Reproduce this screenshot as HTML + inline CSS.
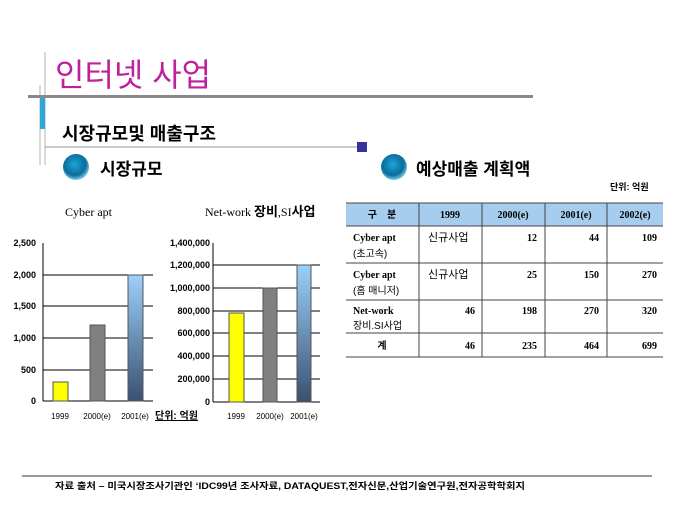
<!DOCTYPE html>
<html><head><meta charset="utf-8"><style>
body{margin:0;background:#fff;width:680px;height:510px;overflow:hidden}
svg text{font-family:"Liberation Sans","Noto Sans CJK KR",sans-serif}
.s{font-family:"Liberation Serif","Noto Sans CJK KR",serif!important}
</style></head><body>
<svg width="680" height="510" viewBox="0 0 680 510" xmlns="http://www.w3.org/2000/svg">
<defs>
<radialGradient id="ball" cx="45%" cy="40%" r="60%"><stop offset="0" stop-color="#1aa6d8"/><stop offset="0.7" stop-color="#0a6c9a"/><stop offset="1" stop-color="#7ccde8"/></radialGradient>
<linearGradient id="bl" x1="0" y1="0" x2="0" y2="1"><stop offset="0" stop-color="#9cd0fa"/><stop offset="1" stop-color="#3a5070"/></linearGradient>
</defs>
<!-- header decoration -->
<line x1="45" y1="52" x2="45" y2="165" stroke="#ccc" stroke-width="1.5"/>
<line x1="40" y1="85" x2="40" y2="165" stroke="#ccc" stroke-width="1.5"/>
<rect x="40" y="97" width="5" height="32" fill="#2aa8d8"/>
<text x="55" y="86" font-size="32" fill="#c0209c">인터넷 사업</text>
<rect x="28" y="95" width="505" height="3" fill="#888"/>
<text x="62" y="140" font-size="18" font-weight="bold" fill="#000">시장규모및 매출구조</text>
<line x1="45" y1="147" x2="360" y2="147" stroke="#999"/>
<rect x="357" y="142" width="10" height="10" fill="#333399"/>
<circle cx="76" cy="167" r="13" fill="url(#ball)"/>
<text x="100" y="175" font-size="17" font-weight="bold">시장규모</text>
<circle cx="394" cy="167" r="13" fill="url(#ball)"/>
<text x="416" y="175" font-size="17" font-weight="bold">예상매출 계획액</text>
<text x="610" y="190" font-size="9" font-weight="bold">단위: 억원</text>
<!-- chart titles -->
<text class="s" x="65" y="216" font-size="12">Cyber apt</text>
<text class="s" x="205" y="216" font-size="12">Net-work <tspan font-weight="bold" font-size="13">장비</tspan>,SI<tspan font-weight="bold" font-size="13">사업</tspan></text>
<!-- left chart -->
<g stroke="#000" stroke-width="1">
<line x1="43" y1="275" x2="153" y2="275"/><line x1="43" y1="306" x2="153" y2="306"/>
<line x1="43" y1="338" x2="153" y2="338"/><line x1="43" y1="370" x2="153" y2="370"/>
<line x1="43" y1="243" x2="43" y2="401"/><line x1="43" y1="401" x2="153" y2="401"/>
</g>
<rect x="53" y="382" width="15" height="19" fill="#ffff00" stroke="#555"/>
<rect x="90" y="325" width="15" height="76" fill="#808080" stroke="#555"/>
<rect x="128" y="275" width="15" height="126" fill="url(#bl)" stroke="#555"/>
<g font-size="9" font-weight="bold" text-anchor="end">
<text x="36" y="246">2,500</text><text x="36" y="278">2,000</text><text x="36" y="309">1,500</text>
<text x="36" y="341">1,000</text><text x="36" y="373">500</text><text x="36" y="404">0</text>
</g>
<g font-size="8" text-anchor="middle">
<text x="60" y="419">1999</text><text x="97" y="419">2000(e)</text><text x="135" y="419">2001(e)</text>
</g>
<text x="155" y="419" font-size="10" font-weight="bold" text-decoration="underline">단위: 억원</text>
<!-- right chart -->
<g stroke="#000" stroke-width="1">
<line x1="213" y1="265" x2="320" y2="265"/><line x1="213" y1="288" x2="320" y2="288"/>
<line x1="213" y1="311" x2="320" y2="311"/><line x1="213" y1="333" x2="320" y2="333"/>
<line x1="213" y1="356" x2="320" y2="356"/><line x1="213" y1="379" x2="320" y2="379"/>
<line x1="213" y1="243" x2="213" y2="402"/><line x1="213" y1="402" x2="320" y2="402"/>
</g>
<rect x="229" y="313" width="15" height="89" fill="#ffff00" stroke="#555"/>
<rect x="263" y="288" width="14" height="114" fill="#808080" stroke="#555"/>
<rect x="297" y="265" width="14" height="137" fill="url(#bl)" stroke="#555"/>
<g font-size="9" font-weight="bold" text-anchor="end">
<text x="210" y="246">1,400,000</text><text x="210" y="268">1,200,000</text><text x="210" y="291">1,000,000</text>
<text x="210" y="314">800,000</text><text x="210" y="336">600,000</text><text x="210" y="359">400,000</text>
<text x="210" y="382">200,000</text><text x="210" y="405">0</text>
</g>
<g font-size="8" text-anchor="middle">
<text x="236" y="419">1999</text><text x="270" y="419">2000(e)</text><text x="304" y="419">2001(e)</text>
</g>
<!-- table -->
<rect x="346" y="203" width="317" height="23" fill="#a6cdee"/>
<g stroke="#444" stroke-width="1">
<line x1="346" y1="203" x2="663" y2="203"/><line x1="346" y1="226" x2="663" y2="226"/>
<line x1="346" y1="263" x2="663" y2="263"/><line x1="346" y1="300" x2="663" y2="300"/>
<line x1="346" y1="333" x2="663" y2="333"/><line x1="346" y1="357" x2="663" y2="357"/>
<line x1="419" y1="203" x2="419" y2="357"/><line x1="482" y1="203" x2="482" y2="357"/>
<line x1="545" y1="203" x2="545" y2="357"/><line x1="607" y1="203" x2="607" y2="357"/>
</g>
<g class="s" font-size="10" font-weight="bold" text-anchor="middle">
<text class="s" x="382" y="218">구　분</text><text class="s" x="450" y="218">1999</text>
<text class="s" x="513" y="218">2000(e)</text><text class="s" x="576" y="218">2001(e)</text><text class="s" x="635" y="218">2002(e)</text>
</g>
<g font-size="10" font-weight="bold">
<text class="s" x="353" y="241">Cyber apt</text><text x="353" y="257" font-weight="normal">(초고속)</text>
<text class="s" x="353" y="278">Cyber apt</text><text x="353" y="294" font-weight="normal">(홈 매니저)</text>
<text class="s" x="353" y="314">Net-work</text><text x="353" y="329" font-weight="normal">장비.SI사업</text>
<text x="382" y="349" text-anchor="middle">계</text>
<text x="428" y="241" font-weight="normal" font-size="11">신규사업</text>
<text x="428" y="278" font-weight="normal" font-size="11">신규사업</text>
</g>
<g class="s" font-size="10" font-weight="bold" text-anchor="end">
<text class="s" x="537" y="241">12</text><text class="s" x="599" y="241">44</text><text class="s" x="657" y="241">109</text>
<text class="s" x="537" y="278">25</text><text class="s" x="599" y="278">150</text><text class="s" x="657" y="278">270</text>
<text class="s" x="475" y="314">46</text><text class="s" x="537" y="314">198</text><text class="s" x="599" y="314">270</text><text class="s" x="657" y="314">320</text>
<text class="s" x="475" y="349">46</text><text class="s" x="537" y="349">235</text><text class="s" x="599" y="349">464</text><text class="s" x="657" y="349">699</text>
</g>
<!-- footer -->
<line x1="22" y1="476" x2="652" y2="476" stroke="#333"/>
<text x="55" y="489" font-size="9" font-weight="bold" textLength="470" lengthAdjust="spacingAndGlyphs">자료 출처 – 미국시장조사기관인 ‘IDC99년 조사자료, DATAQUEST,전자신문,산업기술연구원,전자공학학회지</text>
</svg>
</body></html>
